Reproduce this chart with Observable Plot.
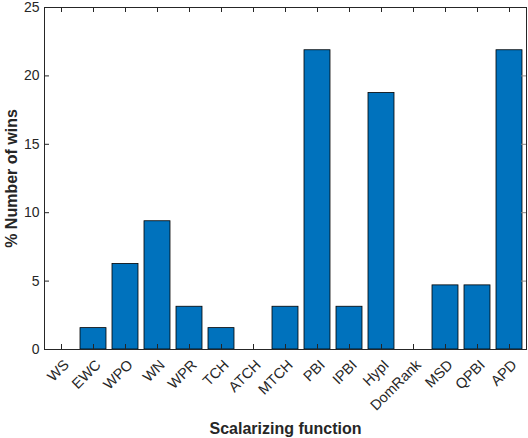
<!DOCTYPE html>
<html>
<head>
<meta charset="utf-8">
<script src="https://cdn.jsdelivr.net/npm/d3@7"></script>
<script src="https://cdn.jsdelivr.net/npm/@observablehq/plot@0.6"></script>
<style>
  html, body { margin: 0; padding: 0; background: #fff; }
  #chart svg { font-family: "Liberation Sans", Arial, sans-serif; }
  #chart [aria-label="x-axis label"] text, #chart [aria-label="y-axis label"] text { font-weight: bold; font-size: 16px; }
</style>
</head>
<body>
<div id="chart"></div>
<script>
const categories = ["WS", "EWC", "WPO", "WN", "WPR", "TCH", "ATCH", "MTCH", "PBI", "IPBI", "HypI", "DomRank", "MSD", "QPBI", "APD"];
const values = [0, 1.5625, 6.25, 9.375, 3.125, 1.5625, 0, 3.125, 21.875, 3.125, 18.75, 0, 4.6875, 4.6875, 21.875];
const yTicks = [0, 5, 10, 15, 20, 25];

const data = categories.map((c, i) => ({cat: c, val: values[i]}));

const W = 528, H = 438;
const mTop = 7, mBottom = 89, mLeft = 44, mRight = 2;
const plotH = H - mTop - mBottom;
const plotW = W - mLeft - mRight;
const tick = 5;
const axisColor = "#262626";

const chart = Plot.plot({
  width: W,
  height: H,
  marginTop: mTop,
  marginBottom: mBottom,
  marginLeft: mLeft,
  marginRight: mRight,
  style: {fontSize: "14px", color: axisColor, background: "#fff"},
  x: {type: "band", domain: categories, paddingInner: 0.2, paddingOuter: 0.1, label: "Scalarizing function"},
  y: {domain: [0, 25], ticks: yTicks, label: "% Number of wins"},
  marks: [
    Plot.barY(data, {x: "cat", y: "val", fill: "#0072BD", stroke: "#000", strokeWidth: 0.8}),
    // inward ticks (MATLAB style)
    Plot.tickX(categories, {x: d => d, insetTop: plotH - tick, stroke: axisColor}),
    Plot.tickX(categories, {x: d => d, insetBottom: plotH - tick, stroke: axisColor}),
    Plot.tickY(yTicks, {y: d => d, insetRight: plotW - tick, stroke: axisColor}),
    Plot.tickY(yTicks, {y: d => d, insetLeft: plotW - tick, stroke: "#888"}),
    Plot.axisX({tickSize: 0, tickRotate: -45, tickPadding: 13, dx: 5, fontSize: 14.5, label: null}),
    Plot.axisX({tickSize: 0, tickFormat: () => "", label: "Scalarizing function", labelAnchor: "center", labelArrow: "none", labelOffset: 84}),
    Plot.axisY({ticks: yTicks, tickSize: 0, tickPadding: 5, fontSize: 14, label: null}),
    Plot.axisY({ticks: yTicks, tickSize: 0, tickFormat: () => "", dy: -4, label: "% Number of wins", labelAnchor: "center", labelArrow: "none", labelOffset: 39}),
    Plot.ruleY([0], {stroke: axisColor}),
    Plot.frame({stroke: axisColor, strokeWidth: 1})
  ]
});
document.getElementById("chart").appendChild(chart);
</script>
</body>
</html>
